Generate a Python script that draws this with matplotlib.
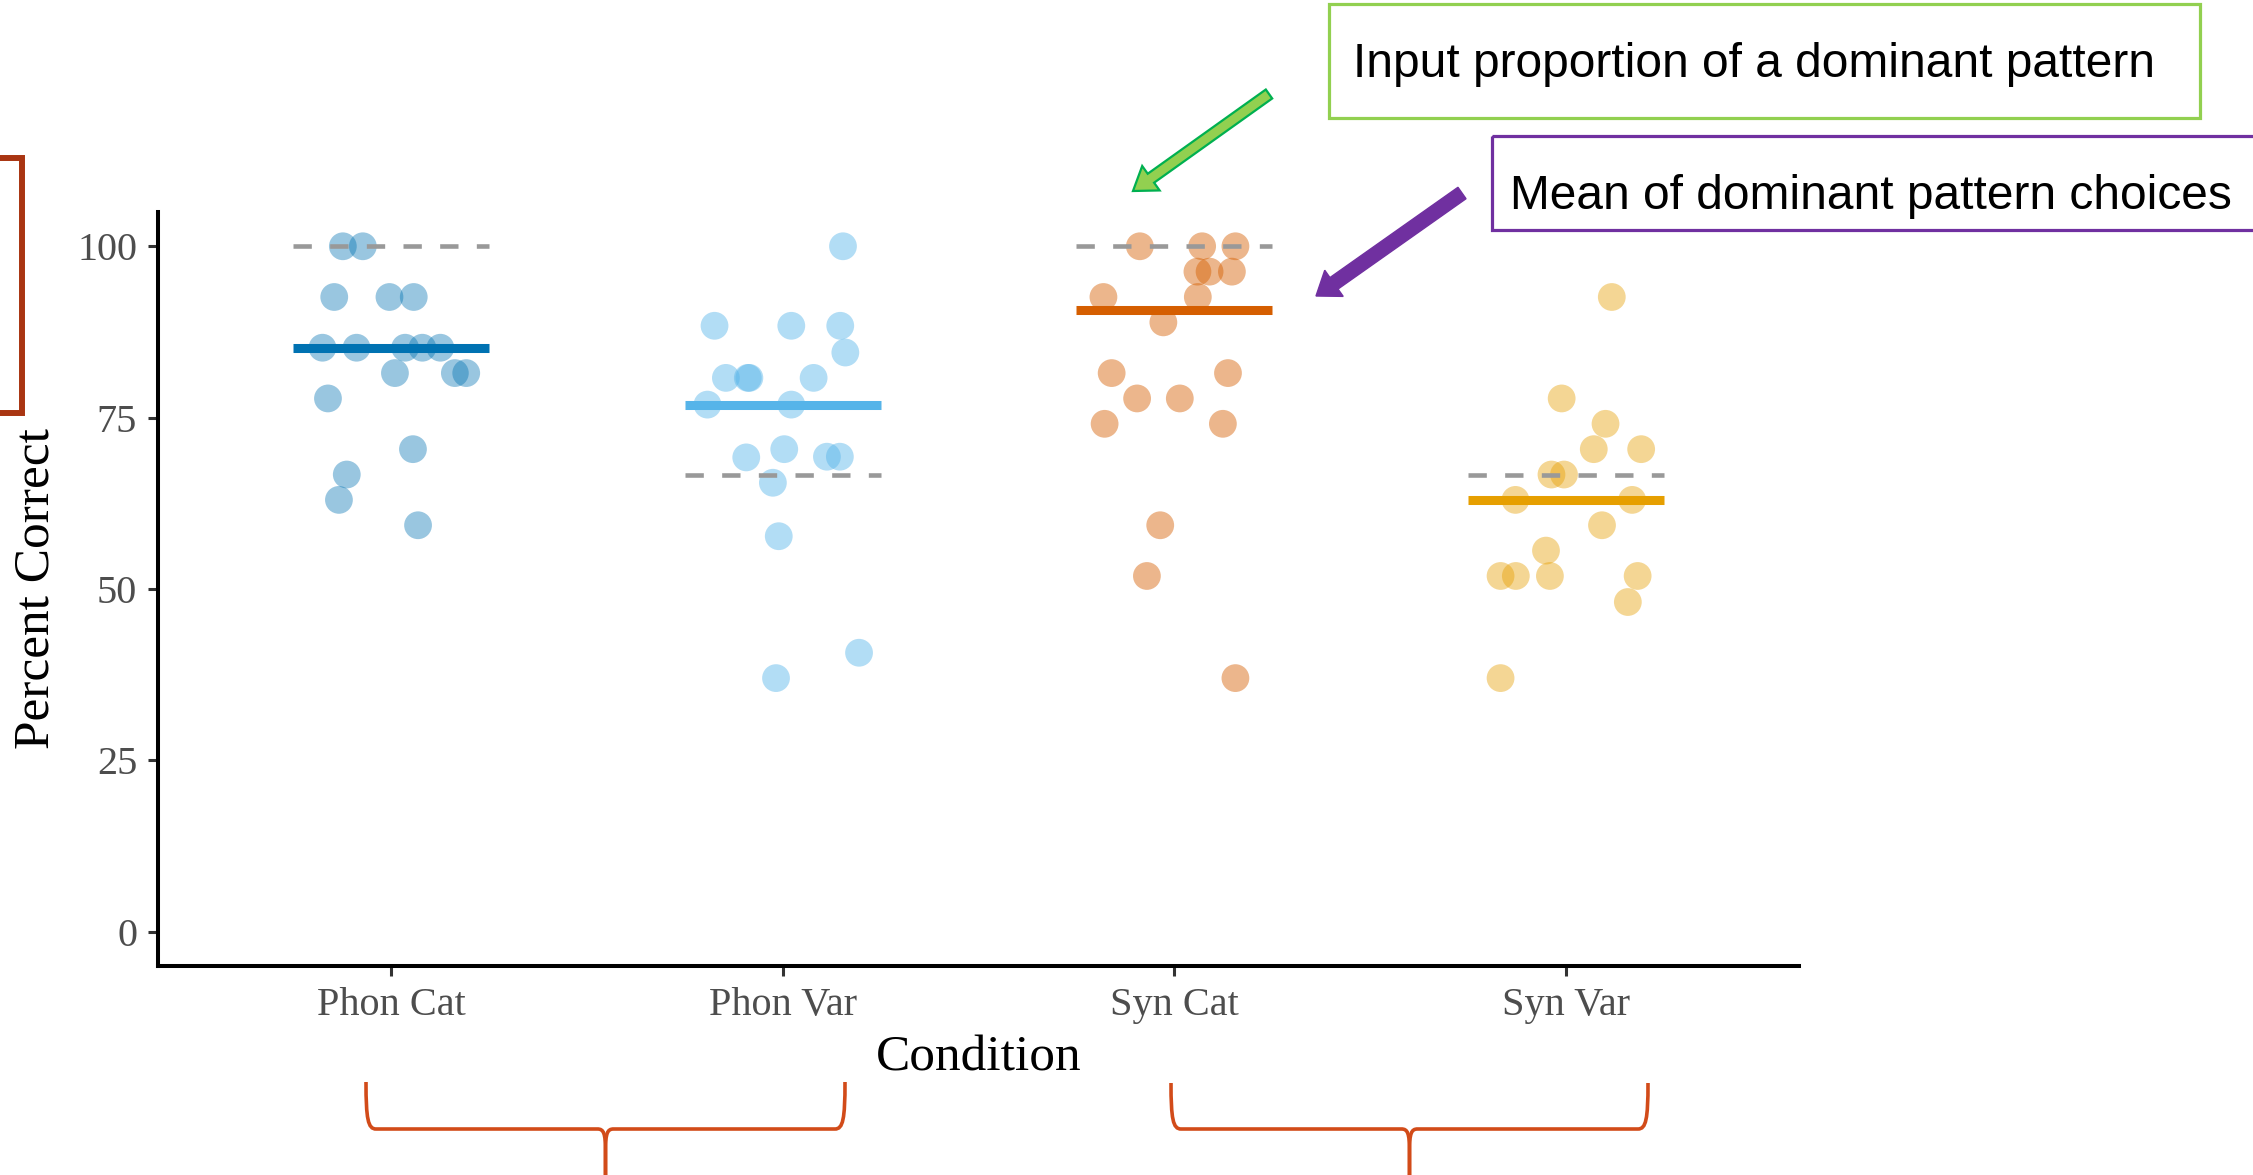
import numpy as np
import matplotlib
matplotlib.use("Agg")
import matplotlib.pyplot as plt
from matplotlib.patches import Rectangle, FancyArrow, PathPatch
from matplotlib.path import Path

# data
conditions = ["Phon Cat", "Phon Var", "Syn Cat", "Syn Var"]
dot_colors = ["#0072B2", "#56B4E9", "#D55E00", "#E69F00"]
dot_alpha = [0.40, 0.45, 0.45, 0.42]

phon_cat_y = [100, 100, 92.6, 92.6, 92.6, 85.2, 85.2, 85.2, 85.2, 85.2,
              81.5, 81.5, 81.5, 77.8, 70.4, 66.7, 63.0, 59.3]
phon_cat_jit = [-0.123, -0.072, -0.145, -0.004, 0.058, -0.175, -0.088, 0.036, 0.080, 0.126,
                0.010, 0.163, 0.192, -0.161, 0.056, -0.113, -0.133, 0.069]

phon_var_y = [100, 88.4, 88.4, 88.4, 84.5, 80.8, 80.8, 80.8, 80.8, 76.9,
              76.9, 69.2, 70.4, 69.3, 69.3, 65.5, 57.7, 40.7, 37.0]
phon_var_jit = [0.154, -0.174, 0.022, 0.147, 0.160, -0.145, -0.089, -0.085, 0.079, -0.192,
                0.022, -0.093, 0.004, 0.113, 0.146, -0.025, -0.010, 0.195, -0.017]

syn_cat_y = [100, 100, 100, 96.3, 96.3, 96.3, 92.6, 92.6, 88.9, 81.5,
             81.5, 77.8, 77.8, 74.1, 74.1, 59.3, 51.9, 37.0]
syn_cat_jit = [-0.088, 0.071, 0.156, 0.059, 0.090, 0.147, -0.181, 0.060, -0.028, -0.160,
               0.137, -0.095, 0.014, -0.178, 0.124, -0.036, -0.070, 0.156]

syn_var_y = [92.6, 77.8, 74.1, 70.4, 70.4, 66.7, 66.7, 63.0, 63.0, 59.3,
             55.6, 51.9, 51.9, 51.9, 51.9, 48.1, 37.0]
syn_var_jit = [0.117, -0.011, 0.101, 0.071, 0.192, -0.037, -0.005, -0.129, 0.169, 0.092,
               -0.051, -0.167, -0.128, -0.041, 0.183, 0.158, -0.167]

means = [85.2, 76.9, 90.7, 63.0]
input_prop = [100, 66.67, 100, 66.67]

all_y = [phon_cat_y, phon_var_y, syn_cat_y, syn_var_y]
all_jit = [phon_cat_jit, phon_var_jit, syn_cat_jit, syn_var_jit]

W, H = 2253, 1175
fig = plt.figure(figsize=(W / 100, H / 100), dpi=100)
fig.patch.set_facecolor("white")

ax = fig.add_axes([158 / W, 1 - 966 / H, (1799 - 158) / W, (966 - 212) / H])
serif = "Liberation Serif"

for i, (ys, jit) in enumerate(zip(all_y, all_jit)):
    xs = i + 1 + np.array(jit)
    ax.scatter(xs, ys, s=400, color=dot_colors[i], alpha=dot_alpha[i],
               edgecolors="none", zorder=2)
    ax.hlines(means[i], i + 1 - 0.25, i + 1 + 0.25, color=dot_colors[i],
              lw=6.5, zorder=3)
    ax.hlines(input_prop[i], i + 1 - 0.25, i + 1 + 0.25, color="#999999",
              lw=3.3, linestyles=(0, (4, 4)), zorder=4)

ax.set_xlim(0.405, 4.595)
ax.set_ylim(-5, 105)
ax.set_xticks(range(1, 5))
ax.set_xticklabels(conditions)
ax.set_yticks([0, 25, 50, 75, 100])
for s in ["top", "right"]:
    ax.spines[s].set_visible(False)
for s in ["left", "bottom"]:
    ax.spines[s].set_linewidth(2.9)
    ax.spines[s].set_color("black")
ax.tick_params(length=7, width=2.2, color="#333333", labelcolor="#4D4D4D",
               labelsize=29, pad=8)
for lab in ax.get_xticklabels() + ax.get_yticklabels():
    lab.set_family(serif)

fig.text(36 / W, 1 - 589 / H, "Percent Correct", rotation=90, ha="center",
         va="center", family=serif, fontsize=37)
fig.text(979 / W, 1 - 1058 / H, "Condition", ha="center", va="center",
         family=serif, fontsize=37)

# overlay in pixel units for the callouts
ov = fig.add_axes([0, 0, 1, 1], zorder=10)
ov.set_xlim(0, W)
ov.set_ylim(H, 0)
ov.axis("off")

ov.add_patch(Rectangle((1329, 4), 871, 114, fill=False, ec="#92D050", lw=2.3))
ov.text(1353, 77, "Input proportion of a dominant pattern", family="Liberation Sans",
        fontsize=34.5, va="baseline", ha="left", color="black")
ov.add_patch(Rectangle((1492, 136), 900, 94, fill=False, ec="#7030A0", lw=2.3))
ov.text(1510, 209, "Mean of dominant pattern choices", family="Liberation Sans",
        fontsize=34.5, va="baseline", ha="left", color="black")

ov.add_patch(FancyArrow(1269, 94, 1133 - 1269, 191 - 94, width=11, head_width=30,
                        head_length=22, length_includes_head=True,
                        fc="#92D050", ec="#00B050", lw=1.6))
ov.add_patch(FancyArrow(1462, 193, 1316 - 1462, 296 - 193, width=14, head_width=32,
                        head_length=22, length_includes_head=True,
                        fc="#7030A0", ec="#7030A0", lw=1))

# red bracket at the left edge
ov.plot([0, 22, 22, 0], [158, 158, 413, 413], color="#A93512", lw=4.3,
        solid_joinstyle="miter")


def brace(x0, x1, top, hy, bottom):
    xc = (x0 + x1) / 2
    C, L, M = Path.CURVE4, Path.LINETO, Path.MOVETO
    for a, sgn in ((x0, 1), (x1, -1)):
        verts = [(a, top), (a, hy - 10), (a + sgn * 2, hy), (a + sgn * 10, hy),
                 (xc - sgn * 8, hy), (xc - sgn * 2, hy), (xc, hy + 4), (xc, hy + 22),
                 (xc, bottom)]
        codes = [M, C, C, C, L, C, C, C, L]
        ov.add_patch(PathPatch(Path(verts, codes), fill=False, ec="#D24B19",
                               lw=2.6, capstyle="butt"))


brace(366, 845, 1082, 1129, 1180)
brace(1171, 1648, 1083, 1129, 1180)

fig.savefig("out.png", dpi=100, facecolor="white")
